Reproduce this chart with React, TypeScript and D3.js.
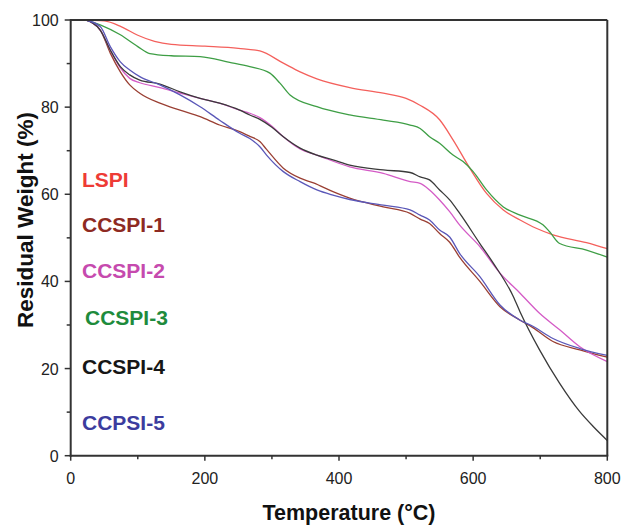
import React from "react";
import * as d3 from "d3";

const seriesNames = ["LSPI", "CCSPI-1", "CCSPI-2", "CCSPI-3", "CCSPI-4", "CCPSI-5"];
const lineColors = ["#F4605C", "#9A3F33", "#D45BC6", "#3E9E45", "#3A3A3A", "#5A57B8"];
const labelColors = ["#EE3B36", "#8E2A22", "#C64AAE", "#1E8B3C", "#161616", "#3C3C9E"];

const xTicks = [0, 200, 400, 600, 800];
const xMinor = [100, 300, 500, 700];
const yTicks = [0, 20, 40, 60, 80, 100];
const yMinor = [10, 30, 50, 70, 90];

// [temperature, weight]
const lspi: [number, number][] = [
  [22, 100], [50, 99.8], [75, 98.5], [100, 96.5], [125, 95.1], [150, 94.4], [200, 94.0], [250, 93.5],
  [282, 92.9], [317, 90.1], [342, 88.1], [367, 86.5], [416, 84.5], [466, 83.2], [500, 82.0],
  [520, 80.5], [550, 77.1], [570, 72.5], [595, 66.0], [620, 60.2], [645, 56.4], [670, 54.1],
  [694, 52.2], [719, 50.7], [769, 48.9], [800, 47.5],
];
const ccspi1: [number, number][] = [
  [22, 100], [44, 97.7], [59, 92.4], [74, 88.1], [88, 85.1], [103, 83.2], [133, 80.9], [163, 79.3],
  [193, 77.8], [222, 75.9], [252, 74.4], [267, 73.3], [282, 72.1], [292, 70.3], [317, 66.0], [342, 63.7],
  [362, 62.6], [391, 60.6], [416, 59.1], [466, 57.1], [506, 55.6], [521, 54.3], [535, 53.3], [550, 51.0],
  [565, 49.0], [580, 45.5], [610, 40.0], [640, 34.2], [670, 31.1], [689, 29.4], [719, 26.2],
  [759, 24.3], [800, 22.6],
];
const ccspi2: [number, number][] = [
  [22, 100], [44, 97.7], [59, 93.1], [74, 89.0], [88, 86.6], [103, 85.6], [133, 84.5], [163, 83.2],
  [193, 82.0], [222, 80.9], [252, 79.3], [267, 78.6], [282, 77.6], [300, 75.6], [317, 73.2], [342, 70.4], [367, 69.0],
  [416, 66.3], [466, 64.8], [506, 62.9], [521, 62.5], [535, 61.0], [550, 58.7], [565, 56.0], [580, 52.9],
  [610, 48.0], [640, 41.9], [670, 37.3], [699, 32.7], [729, 28.9], [759, 25.0], [800, 21.6],
];
const ccspi3: [number, number][] = [
  [22, 100], [44, 98.9], [74, 96.6], [100, 93.9], [118, 92.3], [150, 91.8], [193, 91.6], [237, 90.3],
  [267, 89.3], [297, 87.8], [312, 85.5], [327, 82.8], [367, 80.1], [416, 78.2], [466, 77.0],
  [506, 75.9], [521, 75.1], [535, 73.2], [550, 71.7], [570, 69.0], [585, 67.5], [600, 65.2], [620, 61.0],
  [645, 57.1], [670, 55.2], [704, 53.0], [714, 51.4], [729, 48.7], [769, 47.2], [800, 45.6],
];
const ccspi4: [number, number][] = [
  [22, 100], [44, 97.7], [59, 93.1], [74, 89.3], [88, 87.4], [103, 86.2], [133, 85.3], [163, 83.5],
  [193, 82.0], [222, 80.9], [252, 79.3], [267, 78.2], [282, 77.2], [300, 75.4], [317, 73.2], [342, 70.6],
  [367, 69.0], [391, 67.9], [416, 66.7], [466, 65.6], [506, 65.0], [521, 64.0], [535, 63.3], [550, 61.0],
  [565, 58.7], [580, 55.6], [610, 48.7], [630, 44.2], [660, 36.5], [670, 33.0], [699, 24.3],
  [729, 16.6], [759, 10.1], [779, 6.7], [800, 3.5],
];
const ccpsi5: [number, number][] = [
  [22, 100], [44, 98.5], [59, 93.9], [74, 90.4], [88, 88.5], [103, 87.0], [133, 85.1], [163, 82.8],
  [193, 80.1], [222, 77.0], [252, 74.0], [267, 72.8], [282, 70.9], [292, 69.0], [317, 65.2], [342, 62.9],
  [367, 61.0], [391, 59.8], [416, 58.8], [466, 57.5], [506, 56.4], [521, 55.2], [535, 54.1], [550, 51.8],
  [565, 50.2], [580, 46.4], [610, 41.1], [640, 34.6], [670, 31.1], [689, 29.7], [719, 26.9],
  [759, 24.6], [800, 23.0],
];

const seriesData = [lspi, ccspi1, ccspi2, ccspi3, ccspi4, ccpsi5];
const labelBaseline = [187, 231.5, 278, 325, 374, 430];
const labelX = [82, 82, 82, 85, 82, 82];

export default function App() {
  const W = 623, H = 525;
  const x0 = 70.7, x1 = 607.3, yTop = 20, yBot = 455.7;
  const x = d3.scaleLinear().domain([0, 800]).range([x0, x1]);
  const y = d3.scaleLinear().domain([0, 100]).range([yBot, yTop]);
  const line = d3.line<[number, number]>().x(d => x(d[0])).y(d => y(d[1])).curve(d3.curveMonotoneX);
  const axisColor = "#333";
  const font = "Liberation Sans, Arial, sans-serif";

  return (
    <svg width={W} height={H} style={{ position: "absolute", left: 0, top: 0, background: "#fff" }} fontFamily={font}>
      <rect x={0} y={0} width={W} height={H} fill="#fff" />
      <g fill="none" strokeWidth={1.3}>
        {seriesData.map((d, i) => (
          <path key={i} d={line(d) || ""} stroke={lineColors[i]} />
        ))}
      </g>
      {/* frame */}
      <line x1={x0} y1={yTop} x2={x1} y2={yTop} stroke={axisColor} strokeWidth={2} />
      <line x1={x1} y1={yTop} x2={x1} y2={yBot} stroke={axisColor} strokeWidth={2} />
      <line x1={x0} y1={yTop - 1} x2={x0} y2={yBot + 1} stroke={axisColor} strokeWidth={2} />
      <line x1={x0 - 1} y1={yBot} x2={x1 + 1} y2={yBot} stroke={axisColor} strokeWidth={2} />
      {/* x ticks */}
      {xTicks.map(t => (
        <g key={"xt" + t}>
          <line x1={x(t)} x2={x(t)} y1={yBot} y2={yBot + 5} stroke={axisColor} strokeWidth={1.5} />
          <text x={x(t)} y={yBot + 28} textAnchor="middle" fontSize={16} fill="#222">{t}</text>
        </g>
      ))}
      {xMinor.map(t => (
        <line key={"xm" + t} x1={x(t)} x2={x(t)} y1={yBot} y2={yBot + 3.5} stroke={axisColor} strokeWidth={1.5} />
      ))}
      {yTicks.map(t => (
        <g key={"yt" + t}>
          <line x1={x0 - 6} x2={x0} y1={y(t)} y2={y(t)} stroke={axisColor} strokeWidth={1.5} />
          <text x={x0 - 12} y={y(t) + 6} textAnchor="end" fontSize={16} fill="#222">{t}</text>
        </g>
      ))}
      {yMinor.map(t => (
        <line key={"ym" + t} x1={x0 - 4} x2={x0} y1={y(t)} y2={y(t)} stroke={axisColor} strokeWidth={1.5} />
      ))}
      {/* axis titles */}
      <text x={349} y={520} textAnchor="middle" fontSize={21.5} fontWeight="bold" fill="#111">Temperature (°C)</text>
      <text transform={`translate(33,220) rotate(-90)`} textAnchor="middle" fontSize={22.5} fontWeight="bold" fill="#111">Residual Weight (%)</text>
      {/* labels */}
      {seriesNames.map((n, i) => (
        <text key={n} x={labelX[i]} y={labelBaseline[i]} fontSize={21} fontWeight="bold" fill={labelColors[i]}>{n}</text>
      ))}
    </svg>
  );
}
